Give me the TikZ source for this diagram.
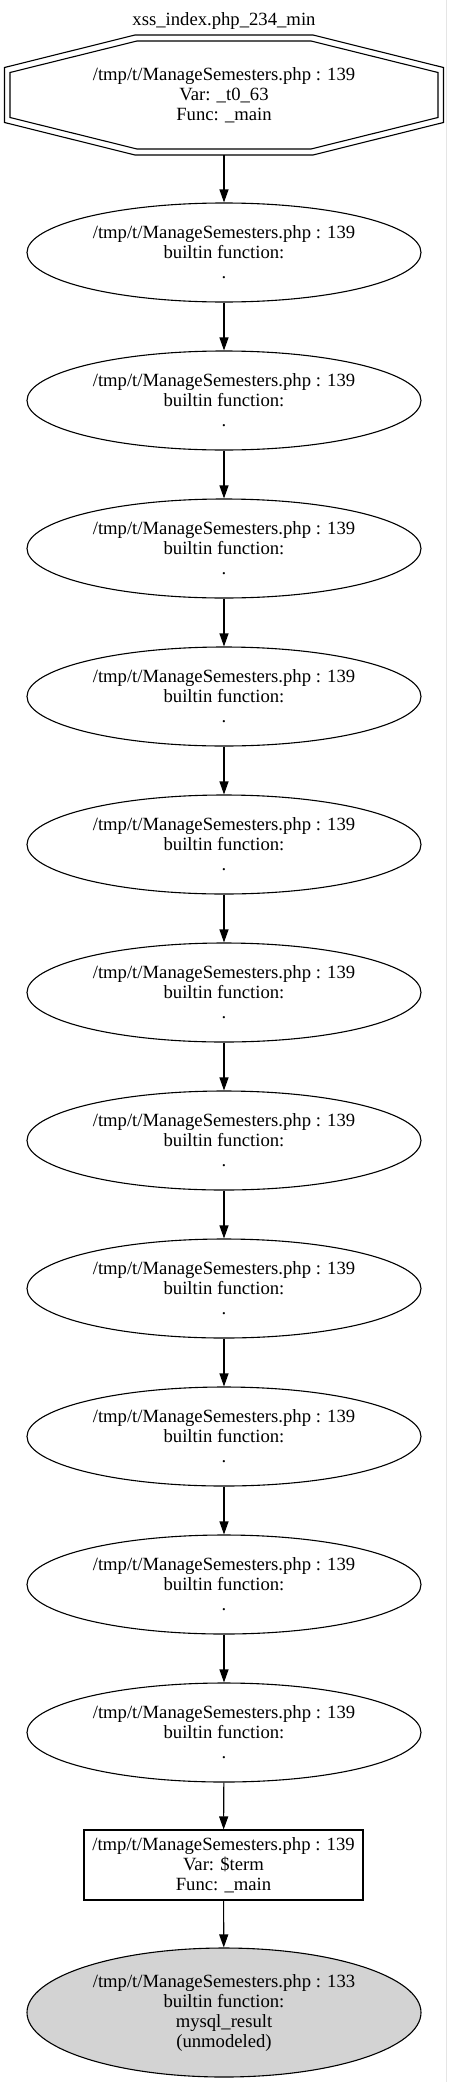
\documentclass[tikz,border=0pt]{standalone}
\usepackage{fontspec}
\setmainfont{Liberation Serif}
\usepackage{tikz}
\usetikzlibrary{arrows.meta}
\usetikzlibrary{shapes.geometric}
\usetikzlibrary{positioning}
\definecolor{sinkgray}{HTML}{D3D3D3}
\tikzset{
    >={Triangle[length=13pt,width=9pt]},
    every node/.style={font=\fontsize{18.67}{20}\selectfont, align=center, inner sep=0pt},
    builtin/.style={draw=black, line width=1.1pt, ellipse, minimum width=394pt, minimum height=99pt},
    sink/.style={builtin, fill=sinkgray, minimum height=129pt},
    varbox/.style={draw=black, line width=1.1pt, rectangle, minimum width=279pt, minimum height=70pt},
    flow/.style={draw=black, line width=1.1pt, ->},
    octline/.style={draw=black, line width=1.1pt},
}
\begin{document}
\begin{tikzpicture}[x=1pt, y=-1pt]
\useasboundingbox (0,0) rectangle (448,2082);
\draw[gray!20, line width=1pt] (446,0) -- (446,2082);
\node (title) at (224,21) {xss\_index.php\_234\_min};
% source node, double octagon
\node[minimum width=439pt, minimum height=120pt] (src) at (224,95) {/tmp/t/ManageSemesters.php : 139\\Var: \_t0\_63\\Func: \_main};
\draw[octline, shift={(src.center)}] (-89,-60) -- (89,-60) -- (219.5,-27.5) -- (219.5,27.5) -- (89,60) -- (-89,60) -- (-219.5,27.5) -- (-219.5,-27.5) -- cycle;
\draw[octline, shift={(src.center)}] (-87,-54) -- (87,-54) -- (214,-22.5) -- (214,22.5) -- (87,54) -- (-87,54) -- (-214,22.5) -- (-214,-22.5) -- cycle;
% builtin calls
\node[builtin] (fn1) at (224,252.5) {/tmp/t/ManageSemesters.php : 139\\builtin function:\\.};
\node[builtin] (fn2) at (224,400.5) {/tmp/t/ManageSemesters.php : 139\\builtin function:\\.};
\node[builtin] (fn3) at (224,548.5) {/tmp/t/ManageSemesters.php : 139\\builtin function:\\.};
\node[builtin] (fn4) at (224,696.5) {/tmp/t/ManageSemesters.php : 139\\builtin function:\\.};
\node[builtin] (fn5) at (224,844.5) {/tmp/t/ManageSemesters.php : 139\\builtin function:\\.};
\node[builtin] (fn6) at (224,992.5) {/tmp/t/ManageSemesters.php : 139\\builtin function:\\.};
\node[builtin] (fn7) at (224,1140.5) {/tmp/t/ManageSemesters.php : 139\\builtin function:\\.};
\node[builtin] (fn8) at (224,1288.5) {/tmp/t/ManageSemesters.php : 139\\builtin function:\\.};
\node[builtin] (fn9) at (224,1436.5) {/tmp/t/ManageSemesters.php : 139\\builtin function:\\.};
\node[builtin] (fn10) at (224,1584.5) {/tmp/t/ManageSemesters.php : 139\\builtin function:\\.};
\node[builtin] (fn11) at (224,1732.5) {/tmp/t/ManageSemesters.php : 139\\builtin function:\\.};
\node[varbox] (term) at (223.5,1865) {/tmp/t/ManageSemesters.php : 139\\Var: \$term\\Func: \_main};
\node[sink] (result) at (224,2012.5) {/tmp/t/ManageSemesters.php : 133\\builtin function:\\mysql\_result\\(unmodeled)};
% edges
\draw[flow] (src.south) -- (fn1);
\draw[flow] (fn1) -- (fn2);
\draw[flow] (fn2) -- (fn3);
\draw[flow] (fn3) -- (fn4);
\draw[flow] (fn4) -- (fn5);
\draw[flow] (fn5) -- (fn6);
\draw[flow] (fn6) -- (fn7);
\draw[flow] (fn7) -- (fn8);
\draw[flow] (fn8) -- (fn9);
\draw[flow] (fn9) -- (fn10);
\draw[flow] (fn10) -- (fn11);
\draw[flow] (fn11) -- (term);
\draw[flow] (term) -- (result);
\end{tikzpicture}
\end{document}
